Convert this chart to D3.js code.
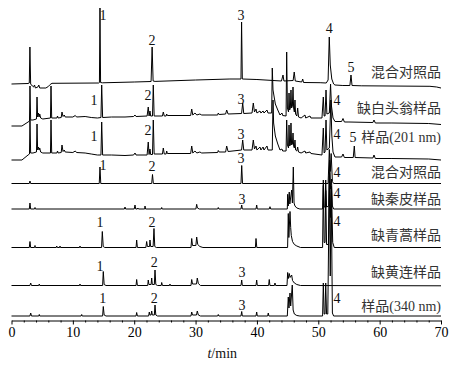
<!DOCTYPE html>
<html>
<head>
<meta charset="utf-8">
<script src="https://cdn.jsdelivr.net/npm/d3@7/dist/d3.min.js"></script>
<style>
  body { margin: 0; background: #fff; }
  svg { display: block; }
  .trace { fill: none; stroke: #000; stroke-width: 1; stroke-linejoin: round; }
  .num { font-family: "Liberation Serif", "Times New Roman", serif; font-size: 14px; fill: #111; }
  .name { font-family: "Liberation Serif", "Noto Sans CJK SC", serif; font-size: 14px; fill: #333; }
  .axis text { font-family: "Liberation Serif", serif; font-size: 14px; fill: #000; }
  .axis path, .axis line { stroke: #000; }
</style>
</head>
<body>
<script>
// chromatogram traces, [time (min), signal above the trace baseline]
var mix201 = [[0,1],[2.7,1.5],[2.9,2],[3.0,38],[3.12,1],[3.4,-1],[3.6,-2],[3.75,0],[3.9,-3],[4.3,-2],[4.45,0],[4.6,-3],
  [5.6,-3],[6.0,-1.5],[6.3,0.5],[6.6,1.7],[14.2,2],[14.33,2.5],[14.42,77],[14.52,2.5],[14.8,2.2],[20,3],[22.75,3.5],
  [22.92,38],[23.08,4],[23.4,3.6],[30,5],[35.6,6],[37.4,6],[37.5,63],[37.62,6],[40,5.5],[44.0,4],[44.25,10],[44.4,4],
  [45.9,4.5],[46.08,13],[46.25,4],[47.3,3],[47.46,6],[47.6,2.5],[50.3,2.3],[51.3,2],[51.6,5],[51.79,48],[51.95,20],
  [52.2,6],[52.5,1],[52.72,0],[54,-0.5],[55.15,-0.5],[55.33,10],[55.5,-0.5],[57,-0.8],[68.2,-1.3],[69.3,-2],[70,-3]];

var noBaitouweng = [[0,0],[1.7,0],[2.7,4],[2.93,5],[3.01,40],[3.12,6],[3.5,6],[4.07,7],[4.16,29],[4.26,9],[4.4,13],
  [4.5,9],[4.6,12],[4.75,8],[5.1,7],[6.35,8],[6.44,40],[6.55,8],[7.4,8],[7.5,10],[7.6,8],[8.1,8.5],[8.23,14],[8.4,9.5],
  [8.6,11],[8.75,9],[10,9],[10.4,10.5],[10.6,9],[12,9.5],[13,8.5],[14.0,8],[14.58,8.5],[14.7,41],[14.85,8.5],[16.3,9],
  [18.5,9],[19.9,9.5],[20.13,11],[20.3,9.5],[22.1,10],[22.29,19],[22.42,10],[22.57,15],[22.68,10],[22.98,10],[23.11,41],
  [23.25,10],[24.6,10],[24.74,14],[24.9,10],[25.2,10],[25.29,12],[25.4,10.5],[29.2,10.5],[29.37,17],[29.55,11],[29.9,13],
  [30.2,11],[30.7,12],[31,11],[33.6,11],[33.7,13],[33.85,11.5],[34.9,12],[35.07,16],[35.3,12],[37.5,12.5],[37.68,23],
  [37.85,12.5],[39.2,13],[39.41,23],[39.6,14],[39.85,17],[40.0,13],[40.5,15],[40.65,13],[41.0,15],[41.15,13],[41.64,16],
  [41.8,13],[42.4,13],[42.5,58],[42.62,36],[43.0,22],[43.4,16],[43.76,11],[44.08,13],[44.2,10.5],[44.75,10],[44.85,74],
  [44.97,18],[45.15,14],[45.23,33],[45.33,16],[45.45,18],[45.55,36],[45.65,18],[45.78,20],[45.88,39],[45.98,18],[46.1,14],
  [46.2,26],[46.3,12],[46.5,10],[46.64,18],[46.78,9],[47.2,8],[47.83,11],[47.95,8],[48.65,10],[48.8,8],[50.6,8],
  [50.82,29],[50.95,10],[51.1,10],[51.26,36],[51.4,12],[51.8,13],[52.0,42],[52.15,20],[52.4,8],[52.72,4.5],[53.8,4.5],
  [54.03,7.5],[54.25,4],[55,4],[58.9,3.5],[59.08,6],[59.3,3],[62,3],[68,2.5],[70,1.5]];

var sample201 = [[0,0],[1.7,0],[2.7,5],[2.93,6],[3.01,40],[3.12,7],[3.5,7],[4.07,8],[4.16,36],[4.26,10],[4.4,13],[4.5,10],
  [4.6,12],[4.75,8],[5.1,7],[6.35,7],[6.44,40],[6.55,7],[7.4,7],[7.5,9],[7.6,7],[8.1,7.5],[8.23,15],[8.4,8.5],[8.6,10],
  [8.75,8],[10,7.5],[10.4,9],[10.6,7.5],[12,7],[13,6],[14.0,5],[14.58,5],[14.7,38],[14.85,5],[16.3,5],[18.5,4.5],[19.9,5],
  [20.13,7],[20.3,5],[22.1,5],[22.29,18],[22.42,5.5],[22.57,11],[22.68,5.5],[22.98,5.5],[23.11,40],[23.25,6],[24.6,6],
  [24.74,12],[24.9,6],[25.2,6],[25.29,9],[25.4,6.5],[29.2,6.5],[29.37,14],[29.55,7],[29.9,9],[30.2,7],[30.7,8],[31,7],
  [33.6,7.5],[33.7,9.5],[33.85,8],[34.9,8],[35.07,14],[35.3,8.5],[37.5,10],[37.68,20],[37.85,10],[39.2,10],[39.41,20],
  [39.6,11],[39.85,14],[40,10],[40.5,13],[40.65,10],[41,13],[41.15,10],[41.64,14],[41.8,10],[42.5,10],[42.62,60],
  [42.72,37],[43.0,24],[43.4,16],[43.76,10],[44.08,11],[44.2,9],[44.75,9],[44.85,40],[44.97,15],[45.15,12],[45.23,35],
  [45.33,14],[45.45,15],[45.55,37],[45.65,15],[45.78,16],[45.88,27],[45.98,14],[46.1,12],[46.2,20],[46.3,10],[46.5,9],
  [46.64,13],[46.78,8],[47.2,7],[47.83,9],[47.95,7],[48.65,8],[48.8,6.5],[50.6,5],[50.82,32],[50.95,7],[51.1,8],
  [51.26,40],[51.4,10],[51.8,12],[52.05,60],[52.2,25],[52.4,8],[52.72,3],[53.8,3],[54.03,6],[54.25,2.5],[55.7,2.5],
  [55.87,14],[56.0,2.5],[58.9,2],[59.08,5],[59.3,1.5],[62,1.5],[68,1],[70,0]];

var mix340 = [[0,0],[2.9,0],[3.01,2.5],[3.12,0],[14.3,0],[14.42,16.5],[14.55,0],[22.85,0],[22.98,9],[23.12,0],
  [37.4,0],[37.52,18],[37.65,0],[51.6,0],[51.8,34],[51.95,12],[52.1,30],[52.3,2],[52.5,0],[70,0]];

var noQinpi = [[0,0],[2.9,0],[3.01,6],[3.12,0],[3.75,0],[3.83,1.5],[3.9,0],[18.4,0],[18.5,2],[18.6,0],[20.0,0],
  [20.13,4],[20.25,0],[20.5,0],[20.6,1],[20.7,0],[21.7,0],[21.76,3],[21.85,0],[24.4,0],[24.48,1.5],[24.56,0],[30.05,0],
  [30.18,4.7],[30.3,1],[30.6,0],[33.6,0],[33.7,1.5],[33.8,0],[37.4,0],[37.52,4],[37.62,0],[39.85,0],[39.96,4],[40.06,0],
  [42.0,0],[42.13,2.3],[42.25,0],[44.95,0],[45.01,14.7],[45.1,3],[45.27,17],[45.36,5],[45.66,19],[45.78,6],[45.93,42],
  [46.05,6],[46.2,3],[46.5,1],[47,0],[50.7,0],[50.82,29],[50.95,2],[51.1,2],[51.21,29],[51.35,2],[51.7,3],[51.85,49],
  [52.0,20],[52.15,30],[52.3,3],[52.5,0],[70,0]];

var noQinghao = [[0,0],[2.9,0],[3.01,6],[3.12,0],[3.75,0],[3.83,2],[3.9,0],[7.3,0],[7.37,1.5],[7.45,0],[7.85,0],
  [7.9,1.5],[7.98,0],[11.1,0],[11.16,1.5],[11.25,0],[14.68,0],[14.8,16],[14.95,1],[15.2,0],[20.3,0],[20.4,7.5],
  [20.52,0],[21.9,0],[22.03,6],[22.15,1],[22.5,1],[22.57,7.5],[22.68,1],[23.08,1],[23.22,19],[23.35,1],[23.6,0],
  [29.25,0],[29.37,9],[29.5,2],[30.05,2],[30.18,10.5],[30.35,3],[30.7,1],[31.2,0],[39.75,0],[39.85,9],[39.98,0],
  [45.0,0],[45.11,34],[45.2,10],[45.39,36],[45.5,20],[45.6,12],[45.8,6],[46.1,3],[46.5,1.5],[47.1,0],[50.7,0],
  [50.82,62],[50.95,5],[51.1,5],[51.21,57],[51.35,3],[51.65,3],[51.85,75],[52.0,30],[52.15,60],[52.35,5],[52.6,0],[70,0]];

var noHuanglian = [[0,0],[3.0,0],[3.13,2.5],[3.25,0],[4.45,0],[4.53,1.5],[4.6,0],[11.1,0],[11.16,1.5],[11.25,0],
  [14.85,0],[14.96,14],[15.1,1],[15.4,0],[20.3,0],[20.4,6],[20.52,0],[22.2,0],[22.29,5.5],[22.4,1],[22.75,1],[22.85,7.5],
  [22.95,1],[23.28,1],[23.39,15.5],[23.52,1],[23.8,0],[24.4,0],[24.48,3],[24.6,0],[25.75,0],[25.83,1.5],[25.9,0],
  [29.25,0],[29.37,6],[29.5,1.5],[30.15,1.5],[30.28,7.5],[30.45,2],[30.8,0],[37.4,0],[37.52,5.5],[37.62,0],[39.85,0],
  [39.96,5.5],[40.06,0],[41.9,0],[42.01,6],[42.12,0],[42.85,0],[42.94,2.5],[43.05,0],[44.9,0],[45.01,13],[45.12,7],
  [45.27,12],[45.4,8],[45.66,10.5],[45.8,5],[46.1,2.5],[46.5,1],[47.1,0],[70,-0.3]];

var sample340 = [[0,0],[3.0,0],[3.13,3],[3.25,0],[4.45,0],[4.53,1.5],[4.6,0],[11.35,0],[11.44,1.5],[11.52,0],[14.85,0],
  [14.96,9.5],[15.1,1],[15.4,0],[20.3,0],[20.4,3.5],[20.52,0],[22.35,0],[22.46,4],[22.56,1],[22.75,1],[22.85,5],[22.95,1],
  [23.28,1],[23.39,11],[23.52,1],[23.8,0],[29.25,0],[29.37,4],[29.5,1],[30.15,1],[30.28,5],[30.45,1],[30.8,0],[33.6,0],
  [33.7,1.5],[33.8,0],[37.4,0],[37.52,4.5],[37.62,0],[39.85,0],[39.96,4],[40.06,0],[41.75,0],[41.85,3],[41.95,0],
  [44.95,0],[45.11,19],[45.22,8],[45.39,23],[45.5,10],[45.76,31],[45.9,6],[46.1,2],[46.5,0.5],[47,0],[50.7,0],
  [50.82,33],[50.95,2],[51.1,2],[51.21,33],[51.35,2],[51.55,2],[51.8,140],[51.95,40],[52.1,130],[52.3,3],[52.5,0],[70,0]];

var traceNames = ["混合对照品", "缺白头翁样品", "样品(201 nm)", "混合对照品", "缺秦皮样品", "缺青蒿样品", "缺黄连样品", "样品(340 nm)"];

// peak labels per trace: [label, time, height above baseline]
var peakLabels = [
  [["1",14.91,70],["2",22.9,45],["3",37.4,70],["4",51.8,57],["5",55.33,18]],
  [["1",13.45,26],["2",22.25,31],["3",37.4,27],["4",53.05,26]],
  [["1",13.45,24],["2",22.25,30],["3",37.4,26],["4",53.05,26],["5",55.65,23]],
  [["1",14.91,18.5],["2",22.9,17.5],["3",37.4,25.5],["4",53.05,11.5]],
  [["3",37.56,10],["4",53.05,16]],
  [["1",14.42,25.5],["2",22.9,25.5],["4",53.05,26.5]],
  [["1",14.42,19.5],["2",23.27,23.5],["3",37.56,13.5]],
  [["1",14.86,18],["2",23.27,18],["3",37.56,11],["4",53.05,18]]
];
var nameHeights = [13, 18, 23, 11.5, 10, 12.5, 13.5, 10];

var majorTicks = [0, 10, 20, 30, 40, 50, 60, 70];
var xTitle = "min";

var width = 461, height = 368;
var axisY = 320.5;

var traces = [mix201, noBaitouweng, sample201, mix340, noQinpi, noQinghao, noHuanglian, sample340];
// baseline of each trace, in the same units as the signal
var traceOffset = [235.5, 194.5, 160.5, 137, 111.5, 73, 35, 4.5];

var x = d3.scaleLinear().domain([0, 70]).range([11.5, 441]);
var y = d3.scaleLinear().domain([0, axisY]).range([axisY, 0]);

var svg = d3.select("body").append("svg")
    .attr("width", width)
    .attr("height", height);

// traces
traces.forEach(function(tr, i) {
  var line = d3.line()
      .x(function(d) { return x(d[0]); })
      .y(function(d) { return y(traceOffset[i] + d[1]); });
  svg.append("path")
      .attr("class", "trace")
      .attr("d", line(tr));
});

// peak numbers
peakLabels.forEach(function(list, i) {
  svg.selectAll(null)
    .data(list)
    .enter().append("text")
      .attr("class", "num")
      .attr("x", function(d) { return x(d[1]); })
      .attr("y", function(d) { return y(traceOffset[i] + d[2]); })
      .attr("dy", "0.33em")
      .attr("text-anchor", "middle")
      .text(function(d) { return d[0]; });
});

// trace names
svg.selectAll(".name")
  .data(traceNames)
  .enter().append("text")
    .attr("class", "name")
    .attr("x", x(70))
    .attr("y", function(d, i) { return y(traceOffset[i] + nameHeights[i]); })
    .attr("dy", "0.36em")
    .attr("text-anchor", "end")
    .text(function(d) { return d; });

// x axis
var minor = d3.range(0, 71, 2).filter(function(v) { return v % 10 !== 0; });
svg.append("g")
    .attr("class", "axis")
    .attr("transform", "translate(0," + axisY + ")")
    .call(d3.axisBottom(x).tickValues(minor).tickSize(2).tickFormat(""))
    .select(".domain").remove();

svg.append("g")
    .attr("class", "axis")
    .attr("transform", "translate(0," + axisY + ")")
    .call(d3.axisBottom(x).tickValues(majorTicks).tickSize(4).tickSizeOuter(0).tickPadding(3));

var title = svg.append("text")
    .attr("class", "num")
    .attr("x", x(35) - 4)
    .attr("y", 357.5)
    .attr("text-anchor", "middle");
title.append("tspan").style("font-style", "italic").text("t");
title.append("tspan").text("/" + xTitle);
</script>
</body>
</html>
